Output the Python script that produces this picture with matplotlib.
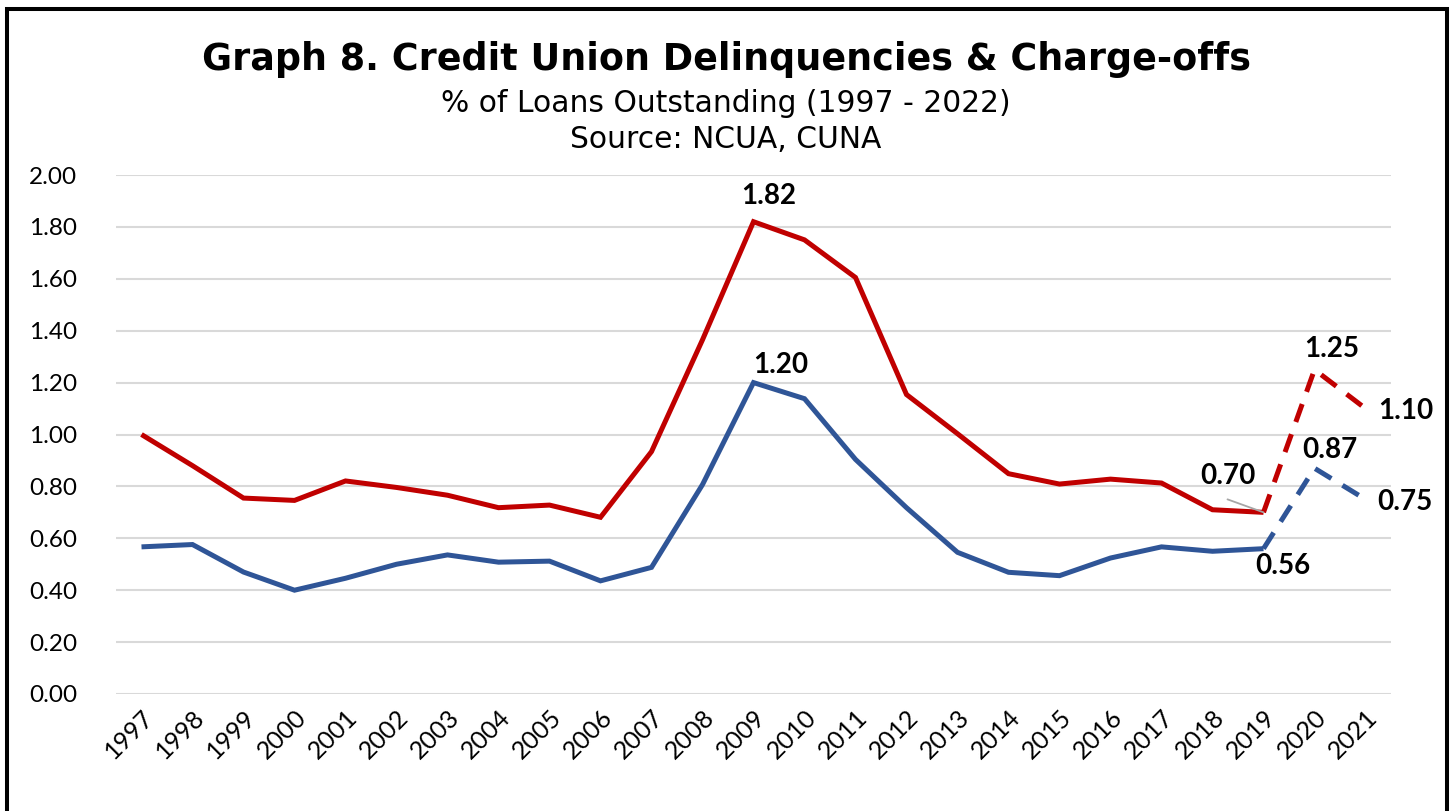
import matplotlib
matplotlib.use("Agg")
import matplotlib.pyplot as plt
from matplotlib.patches import Rectangle
import numpy as np

years = [str(y) for y in range(1997, 2022)]
delinquencies = [1.00, 0.88, 0.755, 0.746, 0.821, 0.796, 0.766, 0.718, 0.728, 0.681,
                 0.934, 1.365, 1.82, 1.75, 1.605, 1.154, 1.003, 0.849, 0.809, 0.828,
                 0.813, 0.71, 0.70, 1.25, 1.10]
chargeoffs = [0.567, 0.576, 0.47, 0.40, 0.446, 0.50, 0.536, 0.508, 0.512, 0.436,
              0.488, 0.807, 1.20, 1.138, 0.904, 0.718, 0.546, 0.469, 0.456, 0.524,
              0.567, 0.55, 0.56, 0.87, 0.75]
yticks = [0.0, 0.2, 0.4, 0.6, 0.8, 1.0, 1.2, 1.4, 1.6, 1.8, 2.0]

title = "Graph 8. Credit Union Delinquencies & Charge-offs"
subtitle1 = "% of Loans Outstanding (1997 - 2022)"
subtitle2 = "Source: NCUA, CUNA"

RED = "#C00000"
BLUE = "#2F5597"
FONT = "Lato"
TFONT = "DejaVu Sans"

W, H = 1452, 811
fig = plt.figure(figsize=(W / 100, H / 100), dpi=100)
fig.patch.set_facecolor("white")

# outer border
fig.patches.append(Rectangle((7 / W, -0.05), (1447 - 7) / W, (H - 8.5) / H + 0.05,
                             transform=fig.transFigure, fill=False,
                             edgecolor="black", linewidth=2.9, zorder=10))

ax = fig.add_axes([116 / W, (H - 694) / H, (1391 - 116) / W, (694 - 175) / H])
x = np.arange(len(years))
split = years.index("2019")

lw = 3.6
ax.plot(x[:split + 1], delinquencies[:split + 1], color=RED, lw=lw,
        solid_joinstyle="miter", solid_capstyle="butt", zorder=3, clip_on=False)
ax.plot(x[split:], delinquencies[split:], color=RED, lw=lw, dashes=(3.8, 2.6),
        dash_capstyle="butt", zorder=3, clip_on=False)
ax.plot(x[:split + 1], chargeoffs[:split + 1], color=BLUE, lw=lw,
        solid_joinstyle="miter", solid_capstyle="butt", zorder=3, clip_on=False)
ax.plot(x[split:], chargeoffs[split:], color=BLUE, lw=lw, dashes=(3.8, 2.6),
        dash_capstyle="butt", zorder=3, clip_on=False)

ax.set_xlim(-0.5, len(years) - 0.5)
ax.set_ylim(0, 2.0)
ax.set_yticks(yticks)
ax.set_yticklabels([f"{v:.2f}" for v in yticks], fontsize=17.5, fontfamily=FONT)
ax.set_xticks(x)
ax.set_xticklabels(years, rotation=45, ha="right", rotation_mode="anchor",
                   fontsize=18, fontfamily=FONT)
ax.tick_params(axis="y", length=0, pad=28)
ax.tick_params(axis="x", length=0, pad=8)
ax.grid(axis="y", color="#D9D9D9", lw=1.5)
ax.set_axisbelow(True)
for s in ax.spines.values():
    s.set_visible(False)

lbl = dict(fontsize=20, fontweight="bold", fontfamily=FONT, color="black",
           textcoords="offset pixels", annotation_clip=False)
i09 = years.index("2009")
i20 = years.index("2020")
i21 = years.index("2021")
ax.annotate(f"{delinquencies[i09]:.2f}", (i09, delinquencies[i09]), xytext=(15, 26),
            ha="center", va="center", **lbl)
ax.annotate(f"{chargeoffs[i09]:.2f}", (i09, chargeoffs[i09]), xytext=(27, 18),
            ha="center", va="center", **lbl)
ax.annotate(f"{delinquencies[i20]:.2f}", (i20, delinquencies[i20]), xytext=(17, 21),
            ha="center", va="center", **lbl)
ax.annotate(f"{delinquencies[i21]:.2f}", (i21, delinquencies[i21]), xytext=(13, -2),
            ha="left", va="center", **lbl)
ax.annotate(f"{chargeoffs[i20]:.2f}", (i20, chargeoffs[i20]), xytext=(15, 18),
            ha="center", va="center", **lbl)
ax.annotate(f"{chargeoffs[i21]:.2f}", (i21, chargeoffs[i21]), xytext=(12, -3),
            ha="left", va="center", **lbl)
ax.annotate(f"{delinquencies[split]:.2f}", (split, delinquencies[split]), xytext=(-36, 36),
            ha="center", va="center", **lbl)
ax.annotate("", (split, delinquencies[split]), xytext=(-36, 13),
            textcoords="offset pixels",
            arrowprops=dict(arrowstyle="-", color="#A6A6A6", lw=1.3,
                            shrinkA=0, shrinkB=0))
ax.annotate(f"{chargeoffs[split]:.2f}", (split, chargeoffs[split]), xytext=(19, -17),
            ha="center", va="center", **lbl)

fig.text(0.5, (H - 60) / H, title, ha="center", va="center", fontsize=26.3,
         fontweight="bold", fontfamily=TFONT)
fig.text(0.5, (H - 103) / H, subtitle1, ha="center", va="center", fontsize=21.4,
         fontfamily=TFONT)
fig.text(0.5, (H - 140) / H, subtitle2, ha="center", va="center", fontsize=21.4,
         fontfamily=TFONT)

fig.savefig("out.png", dpi=100, facecolor="white")
